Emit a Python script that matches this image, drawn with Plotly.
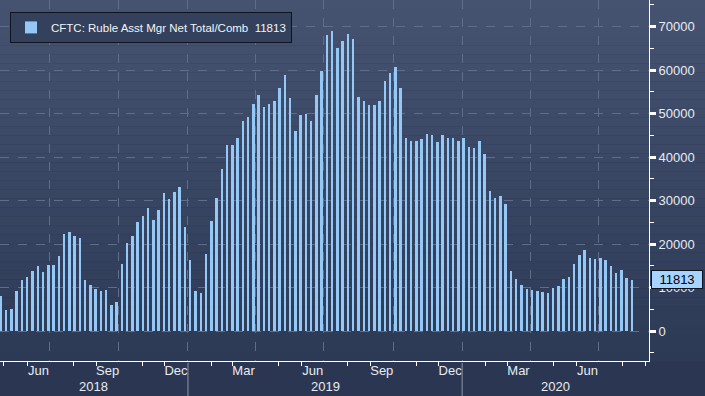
import pandas as pd
import plotly.graph_objects as go

# ---- data (weekly, CFTC release Fridays) ----
start_date = "2018-04-27"
values = [
    8000, 4770, 5000, 9230, 11700, 12400, 13800, 14900, 13500, 15150,
    15150, 17200, 22300, 22800, 21800, 21400, 11700, 10500, 9700, 9230,
    9460, 6000, 6600, 15400, 20200, 21800, 25100, 26500, 28300, 25500,
    27800, 31800, 30400, 32000, 33100, 23900, 16300, 9150, 8700, 17700,
    25300, 30500, 37200, 42700, 42900, 44300, 48400, 49300, 52300, 54400,
    51600, 52300, 52800, 56000, 58800, 53700, 46100, 49800, 50000, 48200,
    54400, 59900, 68200, 69100, 65200, 66600, 68400, 67200, 53900, 53000,
    51900, 51900, 53000, 57600, 59400, 60800, 56000, 44300, 43600, 43600,
    44200, 45400, 45000, 43400, 45000, 44500, 44500, 43600, 44500, 42400,
    42000, 43800, 40800, 32300, 30500, 31100, 29300, 13800, 12000, 10600,
    9700, 9500, 9200, 9000, 8800, 9900, 10400, 12000, 12500, 15500,
    17500, 18700, 16800, 16600, 16800, 16400, 15000, 13400, 14100, 12200,
    11813,
]
dates = pd.date_range(start_date, periods=len(values), freq="W-FRI")
series_name = "CFTC: Ruble Asst Mgr Net Total/Comb\u00a0 11813"
last_value = values[-1]

month_tick_dates = ["2018-06-16", "2018-09-16", "2018-12-16", "2019-03-16",
                    "2019-06-16", "2019-09-16", "2019-12-16", "2020-03-16",
                    "2020-06-16"]
month_tick_text = ["Jun", "Sep", "Dec", "Mar", "Jun", "Sep", "Dec", "Mar", "Jun"]
years = [2018, 2019, 2020]

x_range = [pd.Timestamp("2018-04-25 18:00"), pd.Timestamp("2020-09-05 18:00")]
y_range = [-6900, 76140]

FONT = "Liberation Sans"
TXT = "#e8ebf0"

# ---- figure ----
fig = go.Figure()
fig.add_trace(go.Bar(
    x=dates, y=values, name=series_name,
    marker=dict(color="#94c8f6", line=dict(width=0)),
    width=3.3 * 86400000, showlegend=True, hoverinfo="x+y",
))
# invisible companion trace so the month-label axis is drawn
fig.add_trace(go.Scatter(
    x=dates, y=values, xaxis="x2", mode="markers",
    marker=dict(opacity=0), showlegend=False, hoverinfo="skip",
))

# gradient background bands
top_rgb = (0x45, 0x53, 0x71)
bot_rgb = (0x2c, 0x3a, 0x56)
n_bands = 40
shapes = []
for i in range(n_bands):
    t = i / (n_bands - 1)
    c = tuple(round(top_rgb[k] * (1 - t) + bot_rgb[k] * t) for k in range(3))
    shapes.append(dict(type="rect", xref="paper", yref="paper", layer="below",
                       x0=0, x1=1.09, y1=1 - i / n_bands, y0=1 - (i + 1) / n_bands,
                       fillcolor="rgb(%d,%d,%d)" % c, line=dict(width=0)))

annotations = []
for yr in years:
    a = max(x_range[0], pd.Timestamp(f"{yr}-01-01"))
    b = min(x_range[1], pd.Timestamp(f"{yr + 1}-01-01"))
    mid = a + (b - a) / 2
    annotations.append(dict(x=mid, xref="x", y=-0.072, yref="paper", text=str(yr),
                            showarrow=False, yanchor="middle",
                            font=dict(family=FONT, size=13, color=TXT)))
    if yr > years[0]:
        shapes.append(dict(type="line", xref="x", yref="paper",
                           x0=pd.Timestamp(f"{yr}-01-01"), x1=pd.Timestamp(f"{yr}-01-01"),
                           y0=-0.005, y1=-0.1, line=dict(color="#8a96aa", width=1)))

annotations.append(dict(x=1, xref="paper", y=last_value, yref="y", text=str(last_value),
                        showarrow=False, xanchor="left", xshift=2, width=48,
                        align="center",
                        font=dict(family=FONT, size=13, color="#000000"),
                        bgcolor="#a6d4ff", bordercolor="#0d1420", borderwidth=1, borderpad=1))

grid_col = "#5e6e8a"
fig.update_layout(
    width=705, height=396,
    margin=dict(l=0, r=56, t=0, b=35),
    paper_bgcolor="#2b3752",
    plot_bgcolor="rgba(0,0,0,0)",
    bargap=0,
    shapes=shapes,
    annotations=annotations,
    showlegend=True,
    legend=dict(x=0.0154, y=0.967, xanchor="left", yanchor="top",
                bgcolor="#33415c", bordercolor="#0f1520", borderwidth=1,
                font=dict(family=FONT, size=11.5, color="#f2f4f7"),
                itemwidth=30),
    xaxis=dict(type="date", range=x_range, showgrid=True, gridcolor=grid_col,
               griddash="dash", gridwidth=1, dtick="M3", tick0="2018-01-01",
               showticklabels=False, ticks="", showline=True, linecolor="#ffffff",
               linewidth=1, zeroline=False,
               minor=dict(dtick="M1", tick0="2018-01-01", ticks="outside",
                          ticklen=4, tickcolor="#ffffff", tickwidth=1, showgrid=False)),
    xaxis2=dict(type="date", range=x_range, overlaying="x", anchor="y", side="bottom",
                tickmode="array", tickvals=month_tick_dates, ticktext=month_tick_text,
                ticks="", showgrid=False, showline=False, zeroline=False,
                tickfont=dict(family=FONT, size=13, color=TXT)),
    yaxis=dict(side="right", range=y_range, tick0=0, dtick=10000, tickformat="d",
               showgrid=True, gridcolor=grid_col, griddash="dash", gridwidth=1,
               zeroline=False, showline=True, linecolor="#ffffff", linewidth=1,
               ticks="outside", ticklen=6, tickwidth=3, tickcolor="#ffffff",
               tickfont=dict(family=FONT, size=13, color=TXT),
               minor=dict(dtick=5000, tick0=0, ticks="outside", ticklen=4,
                          tickwidth=1, tickcolor="#ffffff", showgrid=False)),
)

fig.write_html("out.html", config={"displayModeBar": False},
               post_script="document.body.style.margin='0';")
